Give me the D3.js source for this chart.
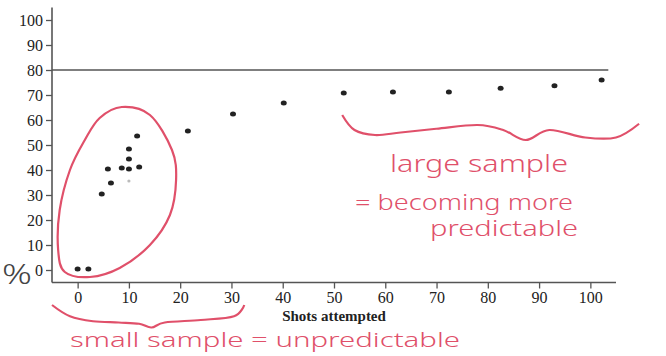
<!DOCTYPE html>
<html><head><meta charset="utf-8">
<script src="https://cdn.jsdelivr.net/npm/d3@7"></script>
<style>body{margin:0;background:#fff}svg{display:block}</style>
</head><body>
<script>
// Data
const shots   = [0, 2.1, 4.7, 6.5, 5.9, 8.6, 10, 10, 10, 11.6, 12, 21.5, 30.3, 40.2, 51.9, 61.5, 72.4, 82.5, 93, 102.2];
const percent = [0.4, 0.4, 30.4, 34.8, 40.4, 40.8, 40.4, 44.4, 48.4, 53.6, 41.2, 55.6, 62.4, 66.8, 70.8, 71.2, 71.2, 72.7, 73.7, 76];
const faintShots = [10];
const faintPercent = [35.6];
const xTicks = [0,10,20,30,40,50,60,70,80,90,100];
const yTicks = [0,10,20,30,40,50,60,70,80,90,100];
const refLevel = 80;
const xLabel = "Shots attempted";
// annotation outlines (data units)
const loopX = [8.6, 14.1, 18.4, 19.2, 18, 14.1, 8.2, 2.4, -2.5, -3.8, -3.5, -1.5, 1.4, 4.3];
const loopY = [65.2, 62, 48, 36, 22, 10, 0.8, -2.8, -0.8, 8, 24, 40, 52, 60.8];
const braceSmallX = [-5, -1.5, 3, 8, 12, 14.4, 17, 24, 30.5, 32.5];
const braceSmallY = [-14, -18.5, -20.5, -21, -21.5, -23, -21, -20, -18.5, -14];
const braceLargeX = [51.6, 54, 58, 63, 70, 78, 83, 87.4, 92, 99, 105, 109.5];
const braceLargeY = [62, 56, 54, 55, 56.5, 58, 56, 52, 56, 53, 53, 58.5];

const W = 666, H = 356;
const svg = d3.select("body").append("svg").attr("width", W).attr("height", H);
const x = d3.scaleLinear().domain([-5, 105]).range([52, 616]);
const y = d3.scaleLinear().domain([-5, 105]).range([282.5, 7.5]);
const red = "#e0506a";
const serif = "Liberation Serif";

// reference line at 80
svg.append("line").attr("x1", x(-5)).attr("x2", x(103.5))
  .attr("y1", y(refLevel)).attr("y2", y(refLevel))
  .attr("stroke", "#555").attr("stroke-width", 1.6);

// axes
const yAxis = svg.append("g").attr("transform", `translate(${x(-5)},0)`)
  .call(d3.axisLeft(y).tickValues(yTicks).tickSize(6).tickPadding(3));
const xAxis = svg.append("g").attr("transform", `translate(0,${y(-5)})`)
  .call(d3.axisBottom(x).tickValues(xTicks).tickSize(6).tickPadding(3));
[xAxis, yAxis].forEach(g => {
  g.attr("font-family", serif).attr("font-size", 16);
  g.select(".domain").attr("stroke", "#555").attr("stroke-width", 1.6);
  g.selectAll(".tick line").attr("stroke", "#555").attr("stroke-width", 1.3);
  g.selectAll("text").attr("fill", "#222");
});
yAxis.select(".domain").attr("d", `M0,${y(105)}V${y(-5)}`);
xAxis.select(".domain").attr("d", `M${x(-5)},0H${x(105)}`);

svg.append("text").attr("x", x(50)).attr("y", 321).attr("text-anchor", "middle")
  .attr("font-family", serif).attr("font-weight", "bold").attr("font-size", 15)
  .attr("fill", "#222").text(xLabel);

// points
const pts = shots.map((s, i) => ({s, p: percent[i]}));
svg.append("g").selectAll("ellipse").data(pts).join("ellipse")
  .attr("cx", d => x(d.s)).attr("cy", d => y(d.p))
  .attr("rx", 3).attr("ry", 2.5).attr("fill", "#222");
svg.append("g").selectAll("circle").data(faintShots.map((s,i)=>({s,p:faintPercent[i]}))).join("circle")
  .attr("cx", d => x(d.s)).attr("cy", d => y(d.p)).attr("r", 1.6).attr("fill", "#bbb");

// handwritten annotations
const line = d3.line().x(d => x(d[0])).y(d => y(d[1]));
svg.append("path").attr("d", line.curve(d3.curveCardinalClosed)(loopX.map((v,i)=>[v, loopY[i]])))
  .attr("fill", "none").attr("stroke", red).attr("stroke-width", 2.2);
svg.append("path").attr("d", line.curve(d3.curveCardinal)(braceSmallX.map((v,i)=>[v, braceSmallY[i]])))
  .attr("fill", "none").attr("stroke", red).attr("stroke-width", 2.2);
svg.append("path").attr("d", line.curve(d3.curveCardinal)(braceLargeX.map((v,i)=>[v, braceLargeY[i]])))
  .attr("fill", "none").attr("stroke", red).attr("stroke-width", 2.2);

const hand = "Noto Sans";
function note(t, px, py, len, size, col) {
  svg.append("text").attr("x", px).attr("y", py).attr("textLength", len).attr("lengthAdjust", "spacingAndGlyphs")
    .attr("font-family", hand).attr("font-size", size).attr("font-weight", 300)
    .attr("fill", col || red).text(t);
}
note("large sample", 390, 172, 178, 23);
note("= becoming more", 355, 210, 218, 21);
note("predictable", 430, 236, 148, 21);
note("small sample = unpredictable", 70, 347, 390, 20);
note("%", 2, 284, 30, 28, "#444");
</script>
</body></html>
